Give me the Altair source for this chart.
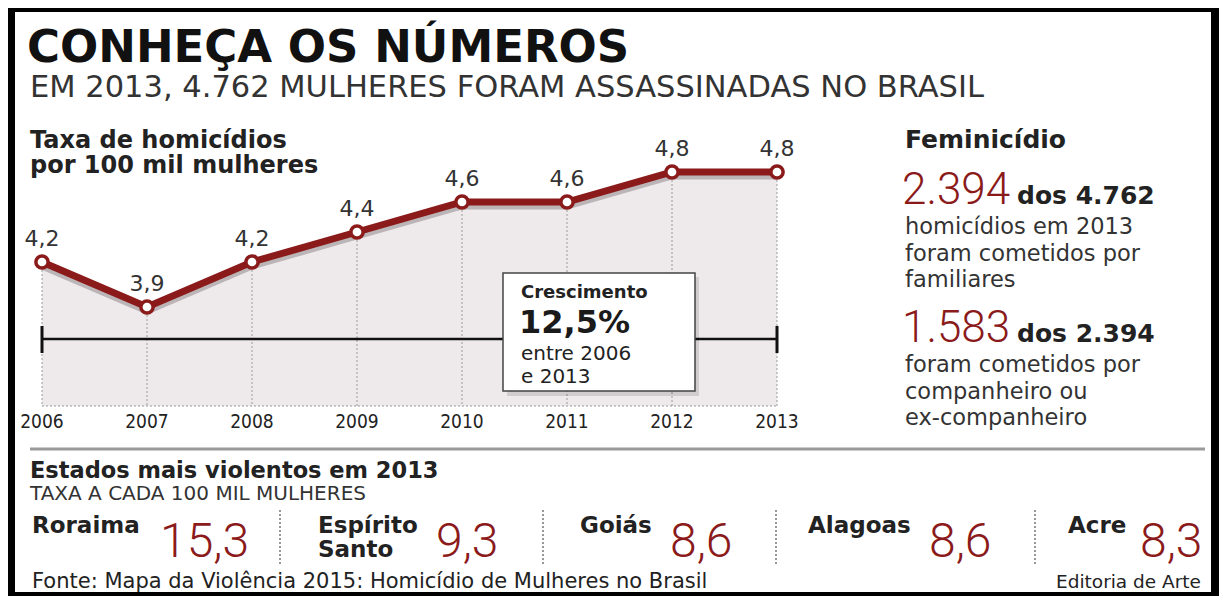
import altair as alt
import pandas as pd

# ---------------- data ----------------
years = [2006, 2007, 2008, 2009, 2010, 2011, 2012, 2013]
rates = [4.2, 3.9, 4.2, 4.4, 4.6, 4.6, 4.8, 4.8]
growth_pct = 12.5

total_2013 = 4762
femicide_family = 2394
femicide_partner = 1583

states = ["Roraima", "Espírito Santo", "Goiás", "Alagoas", "Acre"]
state_rates = [15.3, 9.3, 8.6, 8.6, 8.3]

# ---------------- helpers / style ----------------
OFF = 8  # page margin
W, H = 1211, 588
RED = "#8b1a1a"
SANS = "DejaVu Sans, Verdana, sans-serif"
NARROW = "Roboto, Liberation Sans, Arial, sans-serif"
COND = "DejaVu Sans Condensed, sans-serif"
ONE = [{"a": 1}]


def br(v):
    return f"{v:.1f}".replace(".", ",")


def thousands(n):
    return f"{n:,}".replace(",", ".")


def X(x):
    return x - OFF


def Y(y):
    return y - OFF


def tx(text, x, y, size, weight="normal", color="#222", font=SANS, align="left"):
    return alt.Chart(alt.Data(values=[{"t": text}])).mark_text(
        align=align, baseline="alphabetic", fontSize=size, fontWeight=weight,
        color=color, font=font
    ).encode(x=alt.value(X(x)), y=alt.value(Y(y)), text="t:N")


def box(x1, y1, x2, y2, **kw):
    return alt.Chart(alt.Data(values=ONE)).mark_rect(**kw).encode(
        x=alt.value(X(x1)), x2=alt.value(X(x2)), y=alt.value(Y(y1)), y2=alt.value(Y(y2))
    )


def hrule(x1, x2, y, **kw):
    return alt.Chart(alt.Data(values=ONE)).mark_rule(**kw).encode(
        x=alt.value(X(x1)), x2=alt.value(X(x2)), y=alt.value(Y(y))
    )


def vrule(x, y1, y2, **kw):
    return alt.Chart(alt.Data(values=ONE)).mark_rule(**kw).encode(
        x=alt.value(X(x)), y=alt.value(Y(y1)), y2=alt.value(Y(y2))
    )


# ---------------- line chart ----------------
df = pd.DataFrame({
    "year": years,
    "rate": rates,
    "label": [br(v) for v in rates],
    "ylab": [str(y) for y in years],
})

BASE = Y(406)
xscale = alt.Scale(domain=[2006, 2013], range=[X(42), X(777)])
xs = alt.X("year:Q", scale=xscale, axis=None)
ys = alt.Y("rate:Q", scale=alt.Scale(domain=[3.9, 4.8], range=[Y(307), Y(172)]), axis=None, stack=None)

base = alt.Chart(df)
area = base.mark_area(color="#eeeaec").encode(x=xs, y=ys, y2=alt.value(BASE))
grid = base.mark_rule(color="#9a9a9a", strokeDash=[2, 2], strokeWidth=1).encode(
    x=xs, y=ys, y2=alt.value(BASE))
span = pd.DataFrame({"s": [years[0]], "e": [years[-1]]})
bottom = alt.Chart(span).mark_rule(color="#9a9a9a", strokeDash=[2, 2], strokeWidth=1).encode(
    x=alt.X("s:Q", scale=xscale, axis=None), x2="e:Q", y=alt.value(BASE))
shadow = base.mark_line(color="#a79ea1", strokeWidth=7, yOffset=4, opacity=0.7).encode(x=xs, y=ys)
line = base.mark_line(color=RED, strokeWidth=7).encode(x=xs, y=ys)
pts = base.mark_circle(size=150, color="white", stroke=RED, strokeWidth=3.5, opacity=1).encode(x=xs, y=ys)
vlabels = base.mark_text(dy=-16, fontSize=22, font=SANS, color="#333", baseline="alphabetic").encode(
    x=xs, y=ys, text="label:N")
ylabels = base.mark_text(fontSize=19, font=COND, color="#222", baseline="alphabetic").encode(
    x=xs, y=alt.value(Y(428)), text="ylab:N")

bracket = alt.Chart(span).mark_rule(color="#111", strokeWidth=2.5).encode(
    x=alt.X("s:Q", scale=xscale, axis=None), x2="e:Q", y=alt.value(Y(339)))
ends = pd.DataFrame({"year": [years[0], years[-1]]})
caps = alt.Chart(ends).mark_rule(color="#111", strokeWidth=3).encode(
    x=xs, y=alt.value(Y(326)), y2=alt.value(Y(353)))

# growth box
gbox_shadow = box(507, 277, 699, 396, color="#000", opacity=0.12)
gbox = box(503, 273, 695, 391, fill="white", stroke="#444", strokeWidth=1.5)
g1 = tx("Crescimento", 521, 298, 18, "bold", "#222")
g2 = tx(br(growth_pct) + "%", 519, 333, 32, "bold", "#1a1a1a")
g3 = tx(f"entre {years[0]}", 521, 359.5, 20, "normal", "#222")
g4 = tx(f"e {years[-1]}", 521, 383, 20, "normal", "#222")

# ---------------- titles ----------------
title = tx("CONHEÇA OS NÚMEROS", 27, 62, 45, "bold", "#111")
subtitle = tx(f"EM {years[-1]}, {thousands(total_2013)} MULHERES FORAM ASSASSINADAS NO BRASIL",
              30, 97, 30.5, "normal", "#333")
ct1 = tx("Taxa de homicídios", 30, 148, 24, "bold", "#222")
ct2 = tx("por 100 mil mulheres", 30, 173, 24, "bold", "#222")

# ---------------- right panel ----------------
BODY = 22.5
fem = [
    tx("Feminicídio", 905, 148, 25, "bold", "#222"),
    tx(thousands(femicide_family), 902, 204, 44, 300, RED, NARROW),
    tx(f"dos {thousands(total_2013)}", 1017, 204, 25, "bold", "#222"),
    tx(f"homicídios em {years[-1]}", 905, 234, BODY, "normal", "#333"),
    tx("foram cometidos por", 905, 260.5, BODY, "normal", "#333"),
    tx("familiares", 905, 287, BODY, "normal", "#333"),
    tx(thousands(femicide_partner), 902, 342, 44, 300, RED, NARROW),
    tx(f"dos {thousands(femicide_family)}", 1017, 342, 25, "bold", "#222"),
    tx("foram cometidos por", 905, 372, BODY, "normal", "#333"),
    tx("companheiro ou", 905, 398.5, BODY, "normal", "#333"),
    tx("ex-companheiro", 905, 425, BODY, "normal", "#333"),
]

# ---------------- bottom section ----------------
sep = hrule(30, 1205, 449, color="#9a9a9a", strokeWidth=3)
b1 = tx(f"Estados mais violentos em {years[-1]}", 30, 478, 22.5, "bold", "#222")
b2 = tx("TAXA A CADA 100 MIL MULHERES", 30, 500, 20, "normal", "#333")

name_x = [32, 318, 580, 808, 1068]
num_x = [160, 436, 670, 929, 1140]
div_x = [280, 543, 776, 1035]

state_layers = []
for name, val, nx, vx in zip(states, state_rates, name_x, num_x):
    parts = name.split(" ")
    if len(parts) == 1:
        state_layers.append(tx(name, nx, 533, 23, "bold", "#222"))
    else:
        state_layers.append(tx(parts[0], nx, 533, 23, "bold", "#222"))
        state_layers.append(tx(parts[1], nx, 557, 23, "bold", "#222"))
    state_layers.append(tx(br(val), vx, 557, 48, 300, RED, NARROW))
for dx in div_x:
    state_layers.append(vrule(dx, 510, 564, color="#777", strokeDash=[2, 2], strokeWidth=1.5))

foot1 = tx("Fonte: Mapa da Violência 2015: Homicídio de Mulheres no Brasil", 32, 588, 21, "normal", "#222")
foot2 = tx("Editoria de Arte", 1201, 588, 18.5, "normal", "#222", align="right")


# ---------------- frame ----------------
def raw_rect(x1, x2, y1, y2):
    return alt.Chart(alt.Data(values=ONE)).mark_rect(color="black").encode(
        x=alt.value(x1), x2=alt.value(x2), y=alt.value(y1), y2=alt.value(y2))


frame = [
    raw_rect(0, 7, 0, H),
    raw_rect(0, W, 0, 4),
    raw_rect(W - 8, W, 0, H),
    raw_rect(0, W, H - 4, H),
]

chart = alt.layer(
    area, grid, bottom, shadow, line, pts, vlabels, ylabels, bracket, caps,
    gbox_shadow, gbox, g1, g2, g3, g4,
    title, subtitle, ct1, ct2, *fem, sep, b1, b2, *state_layers, foot1, foot2, *frame
).properties(
    width=W, height=H, padding=0, background="white"
).configure_view(stroke=None)

chart.save("out.html", embed_options={"renderer": "svg", "actions": False})
